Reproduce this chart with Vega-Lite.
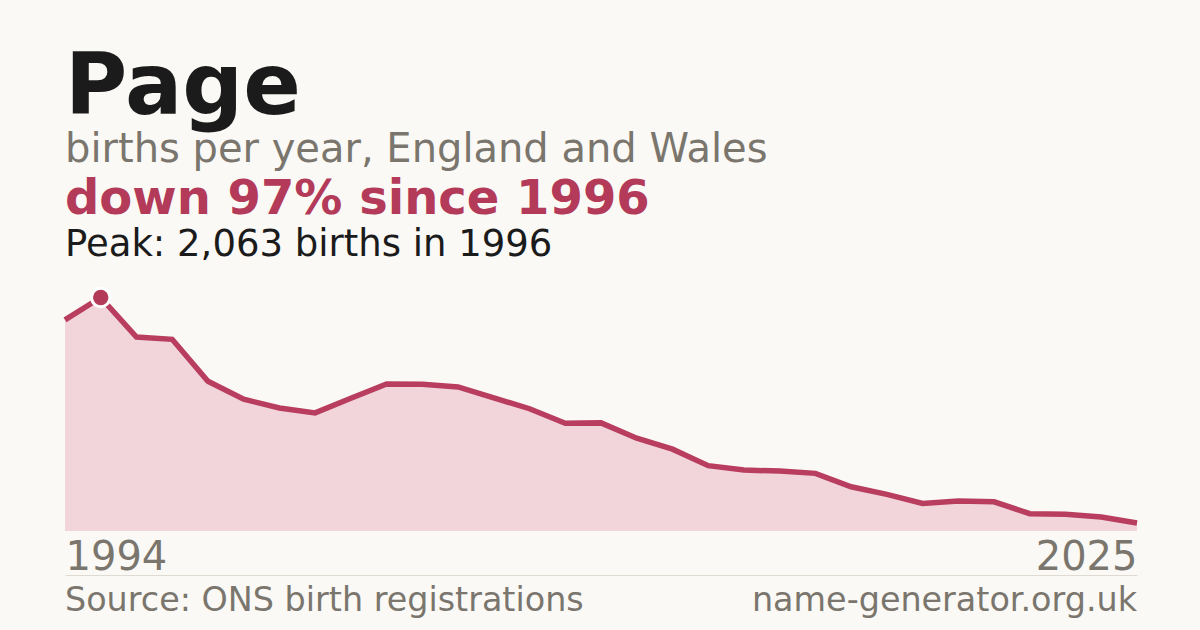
{
  "$schema": "https://vega.github.io/schema/vega-lite/v6.json",
  "description": "Births per year for the name Page, England and Wales, 1994-2025.",
  "background": "#faf9f5",
  "padding": {"left": 54, "right": 64, "top": 46, "bottom": 4},
  "title": {
    "text": "Page",
    "subtitle": "births per year, England and Wales",
    "anchor": "start",
    "frame": "group",
    "font": "DejaVu Sans",
    "fontSize": 85,
    "fontWeight": "bold",
    "color": "#1b1b1b",
    "subtitleFont": "DejaVu Sans",
    "subtitleFontSize": 40,
    "subtitleColor": "#7a766e",
    "subtitlePadding": -2,
    "offset": 5
  },
  "bounds": "flush",
  "spacing": 44,
  "vconcat": [
    {
      "title": {
        "text": "down 97% since 1996",
        "subtitle": "Peak: 2,063 births in 1996",
        "anchor": "start",
        "frame": "group",
        "font": "DejaVu Sans",
        "fontSize": 48,
        "fontWeight": "bold",
        "color": "#b33a58",
        "subtitleFont": "DejaVu Sans",
        "subtitleFontSize": 37,
        "subtitleColor": "#1b1b1b",
        "subtitlePadding": 3,
        "offset": 11
      },
      "width": 1072,
      "height": 257,
      "data": {
        "values": [
          {"year": 1994, "births": 1865},
          {"year": 1996, "births": 2063},
          {"year": 1997, "births": 1713},
          {"year": 1998, "births": 1693},
          {"year": 1999, "births": 1322},
          {"year": 2000, "births": 1164},
          {"year": 2001, "births": 1087},
          {"year": 2002, "births": 1043},
          {"year": 2003, "births": 1173},
          {"year": 2004, "births": 1299},
          {"year": 2005, "births": 1296},
          {"year": 2006, "births": 1272},
          {"year": 2007, "births": 1175},
          {"year": 2008, "births": 1080},
          {"year": 2009, "births": 952},
          {"year": 2010, "births": 955},
          {"year": 2011, "births": 820},
          {"year": 2012, "births": 723},
          {"year": 2013, "births": 577},
          {"year": 2014, "births": 538},
          {"year": 2015, "births": 529},
          {"year": 2016, "births": 509},
          {"year": 2017, "births": 391},
          {"year": 2018, "births": 324},
          {"year": 2019, "births": 244},
          {"year": 2020, "births": 264},
          {"year": 2021, "births": 258},
          {"year": 2022, "births": 153},
          {"year": 2023, "births": 147},
          {"year": 2024, "births": 123},
          {"year": 2025, "births": 70}
        ]
      },
      "encoding": {
        "x": {
          "field": "year",
          "type": "ordinal",
          "scale": {"type": "point", "padding": 0},
          "axis": {
            "values": [1994, 2025],
            "title": null,
            "domain": false,
            "ticks": false,
            "grid": false,
            "labelAngle": 0,
            "labelPadding": 6,
            "labelFont": "DejaVu Sans",
            "labelFontSize": 40,
            "labelColor": "#7a766e",
            "labelAlign": {"condition": {"test": "datum.value == 1994", "value": "left"}, "value": "right"}
          }
        },
        "y": {
          "field": "births",
          "type": "quantitative",
          "scale": {"domain": [0, 2270], "nice": false},
          "axis": null
        }
      },
      "layer": [
        {"mark": {"type": "area", "color": "#f1d5db"}},
        {"mark": {"type": "line", "color": "#b83d5e", "strokeWidth": 5.5, "strokeCap": "butt"}},
        {
          "transform": [{"filter": "datum.year == 1996"}],
          "mark": {"type": "point", "filled": true, "color": "#b33a58", "size": 340, "stroke": "#ffffff", "strokeWidth": 3, "opacity": 1}
        }
      ]
    },
    {
      "width": 1072,
      "height": 52,
      "data": {
        "values": [
          {"label": "Source: ONS birth registrations", "pos": 0},
          {"label": "name-generator.org.uk", "pos": 1}
        ]
      },
      "encoding": {
        "x": {
          "field": "pos",
          "type": "quantitative",
          "scale": {"domain": [0, 1], "nice": false, "zero": false},
          "axis": {
            "orient": "top",
            "title": null,
            "labels": false,
            "ticks": false,
            "grid": false,
            "domain": true,
            "domainColor": "#dedbd3",
            "domainWidth": 1
          }
        },
        "text": {"field": "label"}
      },
      "layer": [
        {
          "transform": [{"filter": "datum.pos == 0"}],
          "mark": {"type": "text", "align": "left", "baseline": "middle", "font": "DejaVu Sans", "fontSize": 33.4, "color": "#7a766e"}
        },
        {
          "transform": [{"filter": "datum.pos == 1"}],
          "mark": {"type": "text", "align": "right", "baseline": "middle", "font": "DejaVu Sans", "fontSize": 33.4, "color": "#7a766e"}
        }
      ]
    }
  ],
  "config": {
    "view": {"stroke": null}
  }
}
